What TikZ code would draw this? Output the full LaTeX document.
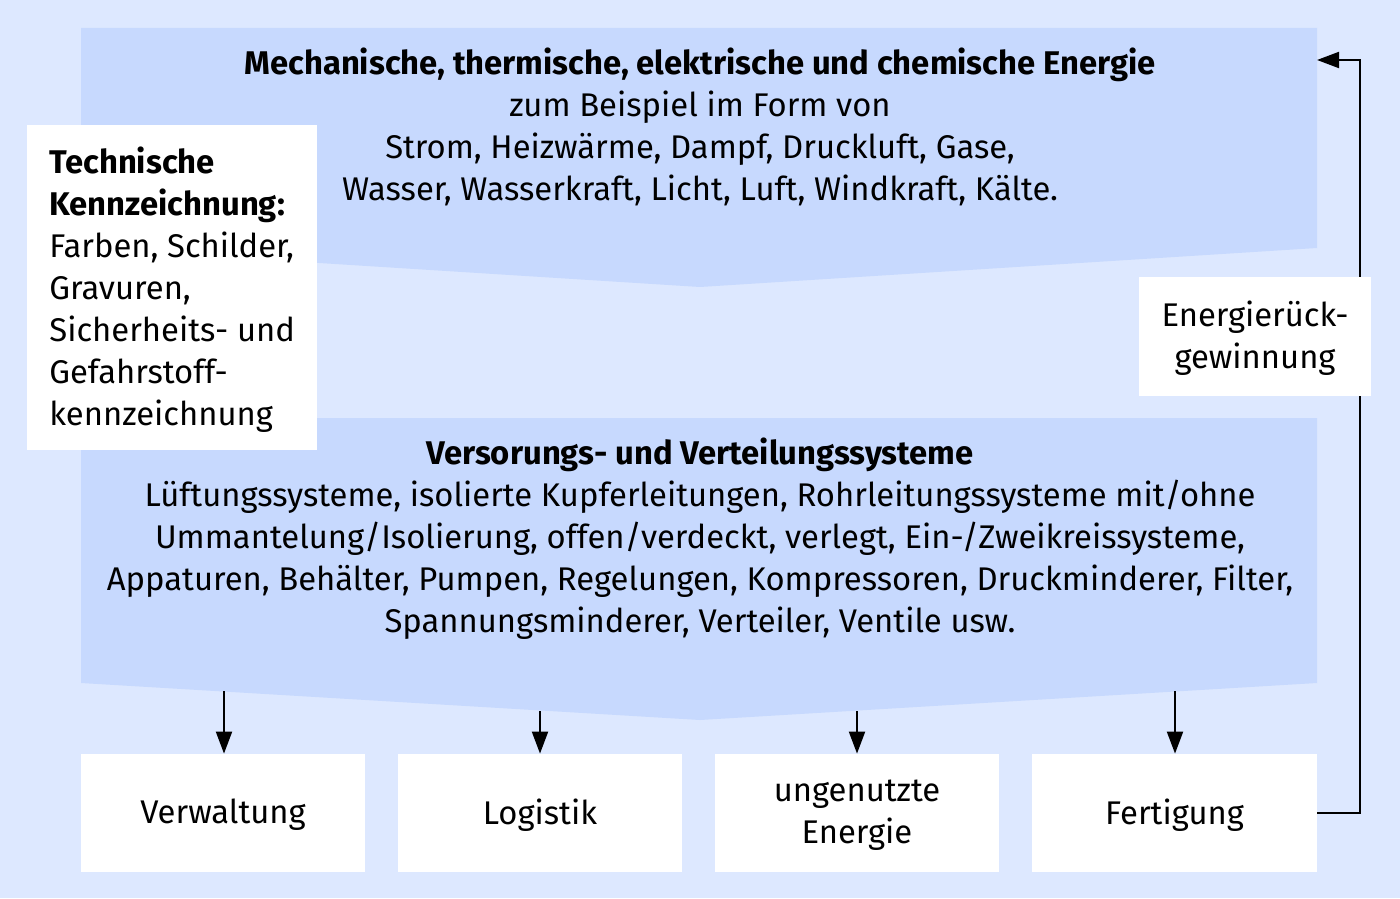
\documentclass[tikz,border=0pt]{standalone}
\usepackage{fontspec}
\setmainfont{Fira Sans}
\usetikzlibrary{arrows.meta}
\definecolor{bgc}{HTML}{DDE8FF}
\definecolor{chev}{HTML}{C7D9FE}
\tikzset{
  txt/.style={inner sep=0pt, align=center, font=\fontsize{16.4}{21}\selectfont},
  wbox/.style={fill=white, draw=none, inner sep=0pt},
  arr/.style={line width=1pt, -{Triangle[length=11pt,width=8pt]}},
}
\begin{document}
\begin{tikzpicture}[x=0.5pt,y=-0.5pt]
\fill[bgc] (0,0) rectangle (1400,898);
\useasboundingbox (0,0) rectangle (1400,898);
% top chevron
\fill[chev] (81,28) -- (1317,28) -- (1317,248) -- (700,287) -- (81,248) -- cycle;
\node[txt] (toptxt) at (700,127) {\textbf{Mechanische, thermische, elektrische und chemische Energie}\\zum Beispiel im Form von\\Strom, Heizwärme, Dampf, Druckluft, Gase,\\Wasser, Wasserkraft, Licht, Luft, Windkraft, Kälte.};
% bottom chevron
\fill[chev] (81,418) -- (1317,418) -- (1317,683) -- (700,720) -- (81,683) -- cycle;
\node[txt] (bottxt) at (700,539) {\textbf{Versorungs- und Verteilungssysteme}\\Lüftungssysteme, isolierte Kupferleitungen, Rohrleitungssysteme mit/ohne\\Ummantelung/Isolierung, offen/verdeckt, verlegt, Ein-/Zweikreissysteme,\\Appaturen, Behälter, Pumpen, Regelungen, Kompressoren, Druckminderer, Filter,\\Spannungsminderer, Verteiler, Ventile usw.};
% left box
\fill[white] (27,125) rectangle (317,450);
\node[txt, align=left, anchor=west] (kenn) at (49,290) {\textbf{Technische}\\\textbf{Kennzeichnung:}\\Farben, Schilder,\\Gravuren,\\Sicherheits- und\\Gefahrstoff-\\kennzeichnung};
% bottom boxes
\node[wbox, minimum width=142pt, minimum height=59pt] (verw) at (223,813) {};
\node[wbox, minimum width=142pt, minimum height=59pt] (logi) at (540,813) {};
\node[wbox, minimum width=142pt, minimum height=59pt] (unge) at (857,813) {};
\node[wbox, minimum width=142.5pt, minimum height=59pt] (fert) at (1174.5,813) {};
\node[txt] at ([yshift=-1pt]verw) {Verwaltung};
\node[txt] at ([yshift=-1pt]logi) {Logistik};
\node[txt] at ([yshift=-1pt]unge) {ungenutzte\\Energie};
\node[txt] at ([yshift=-1pt]fert) {Fertigung};
% arrow start points on chevron edge
\coordinate (c1) at (224,691);
\coordinate (c2) at (540,711);
\coordinate (c3) at (857,711);
\coordinate (c4) at (1175,691);
\draw[arr] (c1) -- (c1 |- verw.north);
\draw[arr] (c2) -- (c2 |- logi.north);
\draw[arr] (c3) -- (c3 |- unge.north);
\draw[arr] (c4) -- (c4 |- fert.north);
% feedback
\coordinate (fb) at (1360,60);
\coordinate (tr) at (1317,60);
\draw[arr] (fert.east) -| (fb) -- (tr);
\node[wbox, minimum width=116pt, minimum height=59.5pt] (rueck) at (1255,336.5) {};
\node[txt] at ([yshift=-1pt]rueck) {Energierück-\\gewinnung};
\end{tikzpicture}
\end{document}
